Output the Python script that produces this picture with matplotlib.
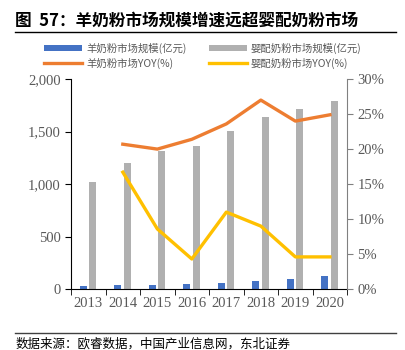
import matplotlib.pyplot as plt
import numpy as np

plt.rcParams['font.family'] = ['Noto Sans CJK SC', 'DejaVu Sans']

years = ['2013', '2014', '2015', '2016', '2017', '2018', '2019', '2020']
goat_size = [30, 35, 41, 50, 60, 79, 98, 124]
infant_size = [1020, 1200, 1315, 1360, 1505, 1640, 1715, 1790]
goat_yoy = [None, 20.7, 20.0, 21.4, 23.6, 27.0, 24.0, 24.9]
infant_yoy = [None, 16.7, 8.6, 4.3, 11.0, 9.0, 4.6, 4.6]

BLUE = '#4472C4'
GRAY = '#B0B0B0'
ORANGE = '#ED7D31'
YELLOW = '#FFC000'
TICK = '#595959'
SERIF = ['Liberation Serif', 'DejaVu Serif']

fig = plt.figure(figsize=(4.06, 3.5), dpi=100)
ax = fig.add_axes([0.175, 0.174, 0.680, 0.600])
ax2 = ax.twinx()

x = np.arange(len(years))
w = 0.21
b1 = ax.bar(x - 0.145, goat_size, w, color=BLUE, label='羊奶粉市场规模(亿元)')
b2 = ax.bar(x + 0.13, infant_size, w, color=GRAY, label='婴配奶粉市场规模(亿元)')

xs = [i for i, v in zip(x, goat_yoy) if v is not None]
l1, = ax2.plot(xs, [v for v in goat_yoy if v is not None], color=ORANGE, lw=2.4,
               label='羊奶粉市场YOY(%)')
l2, = ax2.plot(xs, [v for v in infant_yoy if v is not None], color=YELLOW, lw=2.4,
               label='婴配奶粉市场YOY(%)')

ax.set_xlim(-0.5, 7.5)
ax.set_ylim(0, 2000)
ax2.set_ylim(0, 30)

ax.set_yticks(np.arange(0, 2001, 500))
ax.set_yticklabels(['0', '500', '1,000', '1,500', '2,000'])
ax2.set_yticks(np.arange(0, 31, 5))
ax2.set_yticklabels([f'{v}%' for v in range(0, 31, 5)])
ax.set_xticks(x)
ax.set_xticklabels(years)
ax.set_xticks(np.arange(-0.5, 8, 1), minor=True)
ax.tick_params(axis='x', which='major', length=0, pad=6)
ax.tick_params(axis='x', which='minor', length=4, color='black')
ax.tick_params(axis='y', length=4, color='black')
ax2.tick_params(axis='y', length=4, color='#808080')

for a in (ax, ax2):
    for lab in a.get_xticklabels() + a.get_yticklabels():
        lab.set_family(SERIF)
        lab.set_fontsize(10.5)
        lab.set_color(TICK)
    a.spines['top'].set_visible(False)
ax.spines['right'].set_visible(False)
ax2.spines['left'].set_visible(False)
ax2.spines['bottom'].set_visible(False)
ax2.spines['right'].set_color('#808080')

# 图例: 按行排列
fig.legend(handles=[b1, l1, b2, l2], ncol=2, loc='center', bbox_to_anchor=(0.5, 0.841),
           frameon=False, fontsize=7.5, handlelength=3.6, handleheight=0.5,
           columnspacing=2.2, labelspacing=0.35, handletextpad=0.4,
           labelcolor=TICK)

# 标题
fig.text(0.037, 0.94, '图  57：羊奶粉市场规模增速远超婴配奶粉市场', fontsize=12,
         fontweight='bold', va='center', ha='left')
fig.add_artist(plt.Line2D([0.037, 0.975], [0.909, 0.909], color='black', lw=1))
fig.add_artist(plt.Line2D([0.037, 0.975], [0.049, 0.049], color='#404040', lw=1))
fig.text(0.037, 0.018, '数据来源：欧睿数据，中国产业信息网，东北证券', fontsize=9,
         va='center', ha='left')

fig.savefig('out.png', dpi=100)
